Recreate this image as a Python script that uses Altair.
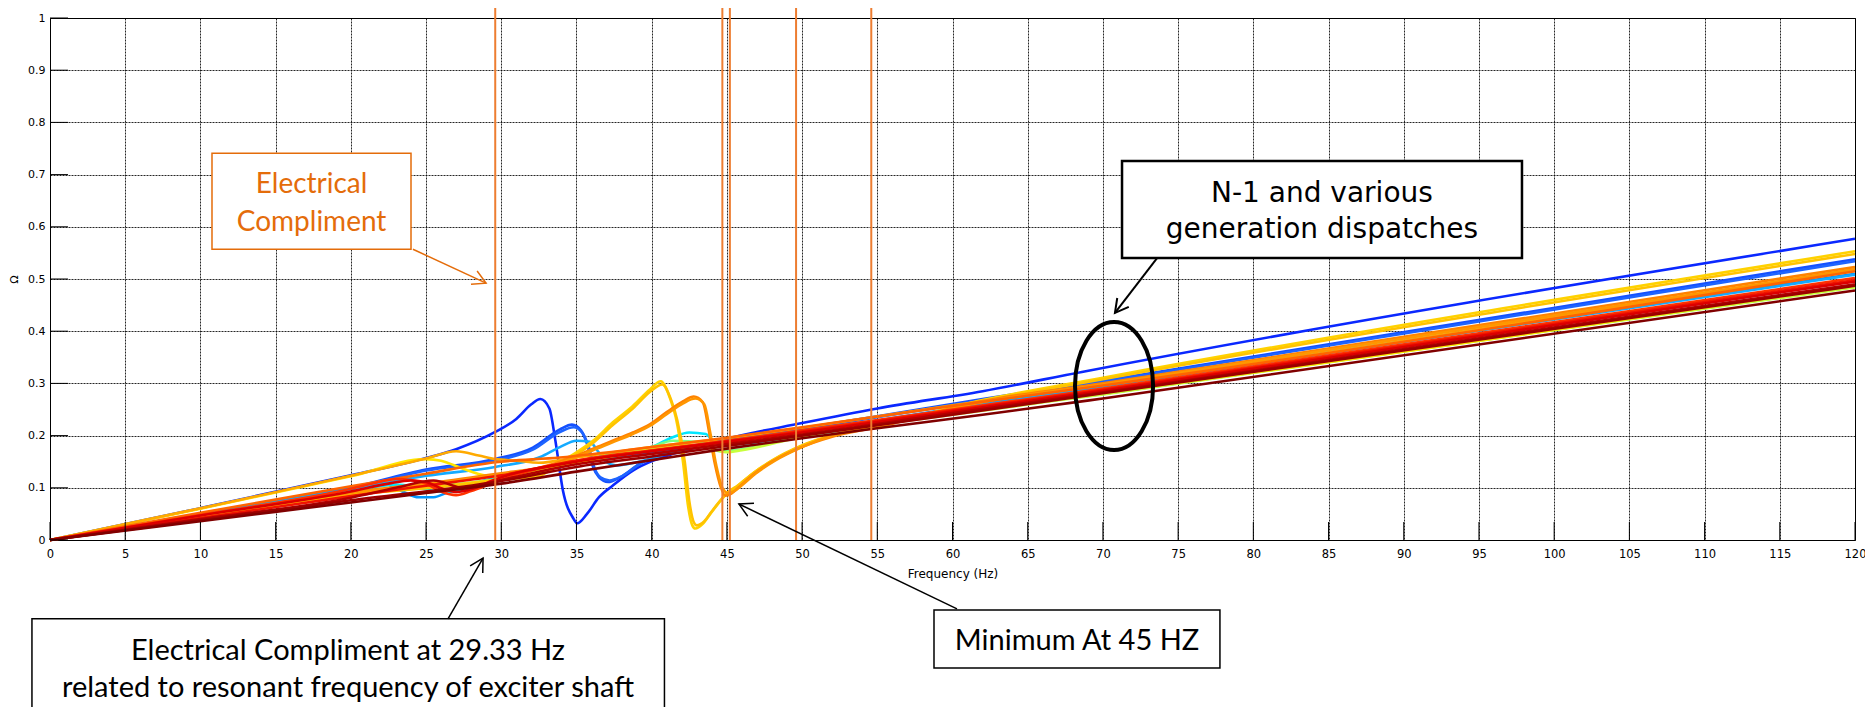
import math
import altair as alt
import pandas as pd

# ---------------- axis ticks ----------------
FREQ_TICKS = list(range(0, 125, 5))
OHM_TICKS = [0, 0.1, 0.2, 0.3, 0.4, 0.5, 0.6, 0.7, 0.8, 0.9, 1.0]

# ---------------- impedance curves (Hz, ohm) ----------------
BLUE1_F = [0, 10, 20, 25, 27, 29.6, 31, 32, 32.6, 33.2, 33.6, 34.1, 34.8, 35.05, 35.7, 36.5, 37.4, 38.75, 40.1, 41.4, 43, 45, 50, 55, 62, 68.6, 120]
BLUE1_Z = [0, 0.061, 0.124, 0.157, 0.174, 0.207, 0.232, 0.26, 0.27, 0.252, 0.19, 0.095, 0.041, 0.032, 0.05, 0.082, 0.104, 0.133, 0.152, 0.165, 0.178, 0.194, 0.224, 0.252, 0.285, 0.322, 0.577]

BLUE2A_F = [0, 10, 20, 25, 29.6, 32.1, 33.9, 34.7, 35.3, 35.7, 36.1, 36.5, 37.1, 37.9, 39.2, 40.5, 45, 50, 55, 62, 70, 120]
BLUE2A_Z = [0, 0.047, 0.1, 0.135, 0.155, 0.177, 0.212, 0.221, 0.21, 0.184, 0.14, 0.12, 0.111, 0.12, 0.146, 0.162, 0.19, 0.214, 0.237, 0.27, 0.305, 0.538]

BLUE2B_F = [0, 10, 20, 25, 29.6, 32.1, 33.9, 34.8, 35.4, 35.8, 36.2, 36.6, 37.2, 38, 39.3, 40.6, 45, 50, 55, 62, 70, 120]
BLUE2B_Z = [0, 0.046, 0.098, 0.133, 0.152, 0.173, 0.207, 0.216, 0.205, 0.18, 0.138, 0.12, 0.114, 0.122, 0.147, 0.162, 0.189, 0.212, 0.235, 0.268, 0.303, 0.534]

LBLUE1_F = [0, 10, 20, 22, 23.5, 24.5, 25.5, 26.5, 27.5, 29, 30, 35, 40, 45, 50, 60, 70, 120]
LBLUE1_Z = [0, 0.05, 0.1, 0.11, 0.092, 0.082, 0.082, 0.092, 0.101, 0.115, 0.122, 0.148, 0.168, 0.186, 0.206, 0.252, 0.295, 0.51]

LBLUE2_F = [0, 10, 20, 25, 29.6, 32.6, 33.9, 35, 35.9, 36.4, 37, 37.6, 38.5, 39.9, 41, 45, 50, 60, 70, 120]
LBLUE2_Z = [0, 0.048, 0.097, 0.123, 0.14, 0.159, 0.178, 0.19, 0.188, 0.171, 0.149, 0.143, 0.146, 0.155, 0.165, 0.186, 0.205, 0.25, 0.294, 0.508]

CYAN_F = [0, 10, 20, 23, 24.5, 25.5, 26.5, 27.5, 29, 30, 35, 38, 40, 41.4, 42.5, 43.6, 44.1, 45, 50, 60, 70, 120]
CYAN_Z = [0, 0.046, 0.093, 0.106, 0.1, 0.094, 0.092, 0.098, 0.11, 0.117, 0.15, 0.168, 0.178, 0.197, 0.206, 0.203, 0.19, 0.183, 0.2, 0.242, 0.28, 0.485]

GREEN_F = [0, 10, 20, 30, 35, 38, 40, 41.4, 43.5, 44.5, 45.5, 50, 60, 70, 120]
GREEN_Z = [0, 0.045, 0.09, 0.118, 0.15, 0.167, 0.178, 0.19, 0.186, 0.17, 0.172, 0.2, 0.242, 0.28, 0.486]

YGREEN_F = [0, 10, 20, 30, 35, 40, 42, 44, 45, 46, 50, 60, 70, 120]
YGREEN_Z = [0, 0.045, 0.089, 0.116, 0.148, 0.175, 0.182, 0.175, 0.168, 0.172, 0.198, 0.24, 0.279, 0.484]

YELLOW3_F = [0, 10, 20, 25, 26, 27.5, 29, 30, 35, 40, 45, 50, 60, 70, 120]
YELLOW3_Z = [0, 0.06, 0.122, 0.155, 0.152, 0.136, 0.123, 0.12, 0.148, 0.172, 0.186, 0.204, 0.245, 0.282, 0.488]

YELLOW1_F = [0, 10, 20, 25, 30, 32.6, 33.7, 35, 36.1, 37.4, 38.75, 39.9, 40.6, 41.2, 41.6, 42.1, 42.4, 42.7, 42.9, 43.4, 43.9, 44.6, 45, 45.6, 46.7, 48, 49.8, 52, 55, 62, 70, 120]
YELLOW1_Z = [0, 0.045, 0.088, 0.1, 0.117, 0.127, 0.146, 0.168, 0.19, 0.225, 0.257, 0.289, 0.304, 0.273, 0.235, 0.146, 0.069, 0.028, 0.022, 0.031, 0.05, 0.076, 0.089, 0.101, 0.127, 0.152, 0.178, 0.2, 0.218, 0.268, 0.311, 0.553]

YELLOW2_F = [0, 10, 20, 25, 30, 32.6, 33.7, 35, 36.1, 37.4, 38.75, 39.9, 40.7, 41.3, 41.7, 42.2, 42.5, 42.8, 43.0, 43.5, 44, 44.7, 45.1, 45.7, 46.8, 48.1, 49.9, 52, 55, 62, 70, 120]
YELLOW2_Z = [0, 0.044, 0.087, 0.099, 0.115, 0.124, 0.142, 0.164, 0.186, 0.22, 0.252, 0.284, 0.298, 0.268, 0.23, 0.15, 0.075, 0.034, 0.028, 0.036, 0.055, 0.08, 0.092, 0.104, 0.129, 0.154, 0.18, 0.201, 0.219, 0.266, 0.308, 0.548]

YORANGE_F = [0, 10, 20, 25, 27, 28.5, 29.6, 31, 32.5, 35, 40, 45, 50, 60, 70, 120]
YORANGE_Z = [0, 0.061, 0.123, 0.156, 0.17, 0.162, 0.155, 0.152, 0.148, 0.158, 0.178, 0.195, 0.215, 0.258, 0.297, 0.519]

ORANGE1_F = [0, 10, 20, 25, 30, 32.6, 34.8, 36.1, 37.4, 38.75, 39.9, 41, 42.1, 42.8, 43.4, 43.8, 44.2, 44.6, 44.9, 45.3, 45.8, 46.7, 48, 49.8, 52, 55, 62, 70, 120]
ORANGE1_Z = [0, 0.046, 0.092, 0.108, 0.128, 0.139, 0.159, 0.175, 0.19, 0.206, 0.222, 0.245, 0.266, 0.275, 0.264, 0.21, 0.146, 0.101, 0.085, 0.089, 0.101, 0.124, 0.15, 0.176, 0.198, 0.216, 0.266, 0.3, 0.523]

ORANGE2_F = [0, 10, 20, 25, 30, 32.6, 34.8, 36.1, 37.4, 38.75, 39.9, 41, 42.1, 42.9, 43.5, 43.9, 44.3, 44.7, 45.1, 45.5, 46, 46.9, 48.2, 50, 52, 55, 62, 70, 120]
ORANGE2_Z = [0, 0.045, 0.09, 0.106, 0.126, 0.137, 0.156, 0.172, 0.187, 0.203, 0.219, 0.241, 0.262, 0.271, 0.26, 0.205, 0.142, 0.1, 0.09, 0.094, 0.105, 0.127, 0.152, 0.178, 0.2, 0.218, 0.264, 0.298, 0.518]

ORANGE3_F = [0, 10, 20, 25, 29.6, 33.9, 40, 45, 50, 60, 70, 120]
ORANGE3_Z = [0, 0.052, 0.103, 0.127, 0.149, 0.158, 0.178, 0.196, 0.216, 0.257, 0.296, 0.515]

RED1_F = [0, 10, 20, 22, 23, 24, 25, 26, 27, 28, 29.5, 31, 35, 40, 45, 50, 60, 70, 120]
RED1_Z = [0, 0.048, 0.098, 0.112, 0.117, 0.115, 0.108, 0.093, 0.086, 0.094, 0.11, 0.125, 0.152, 0.172, 0.19, 0.21, 0.25, 0.29, 0.502]

RED2_F = [0, 10, 20, 25, 30, 35, 40, 45, 50, 60, 70, 120]
RED2_Z = [0, 0.042, 0.084, 0.104, 0.124, 0.152, 0.171, 0.189, 0.208, 0.248, 0.288, 0.498]

RED3_F = [0, 10, 20, 22.5, 24, 25, 26, 27, 28.1, 29.5, 35, 40, 45, 50, 60, 70, 120]
RED3_Z = [0, 0.047, 0.093, 0.108, 0.114, 0.111, 0.099, 0.092, 0.098, 0.115, 0.15, 0.17, 0.188, 0.206, 0.246, 0.286, 0.495]

DRED1_F = [0, 10, 20, 23, 25.5, 27.5, 30, 35, 40, 45, 50, 60, 70, 120]
DRED1_Z = [0, 0.04, 0.081, 0.1, 0.114, 0.1, 0.115, 0.145, 0.165, 0.184, 0.202, 0.243, 0.283, 0.49]

DRED2_F = [0, 10, 20, 30, 35, 40, 45, 50, 60, 70, 120]
DRED2_Z = [0, 0.038, 0.076, 0.113, 0.14, 0.16, 0.18, 0.2, 0.24, 0.281, 0.487]

BROWN_F = [0, 10, 20, 25, 30, 35, 40, 45, 50, 55, 62, 70, 120]
BROWN_Z = [0, 0.036, 0.072, 0.09, 0.108, 0.131, 0.153, 0.175, 0.195, 0.214, 0.24, 0.271, 0.478]

SERIES = [
    ("01", "#0A28FF", BLUE1_F, BLUE1_Z),
    ("02", "#1450FF", BLUE2A_F, BLUE2A_Z),
    ("03", "#1E64FF", BLUE2B_F, BLUE2B_Z),
    ("04", "#0096FF", LBLUE1_F, LBLUE1_Z),
    ("05", "#14AAFF", LBLUE2_F, LBLUE2_Z),
    ("06", "#00E6FF", CYAN_F, CYAN_Z),
    ("07", "#78FF82", GREEN_F, GREEN_Z),
    ("08", "#C8FF3C", YGREEN_F, YGREEN_Z),
    ("09", "#FFE600", YELLOW3_F, YELLOW3_Z),
    ("10", "#FFD200", YELLOW1_F, YELLOW1_Z),
    ("11", "#FFC300", YELLOW2_F, YELLOW2_Z),
    ("12", "#FFAA00", YORANGE_F, YORANGE_Z),
    ("13", "#FF8200", ORANGE1_F, ORANGE1_Z),
    ("14", "#FF9600", ORANGE2_F, ORANGE2_Z),
    ("15", "#FF6400", ORANGE3_F, ORANGE3_Z),
    ("16", "#FF3200", RED1_F, RED1_Z),
    ("17", "#F01400", RED2_F, RED2_Z),
    ("18", "#DC0000", RED3_F, RED3_Z),
    ("19", "#B40000", DRED1_F, DRED1_Z),
    ("20", "#9B0000", DRED2_F, DRED2_Z),
    ("21", "#800000", BROWN_F, BROWN_Z),
]

# orange marker lines (Hz)
MARK_F = [29.6, 44.7, 45.2, 49.6, 54.6]
MARK_TOP = 1.021

# ---------------- layout ----------------
W, H = 1805, 522
SX = W / 120.0   # px per Hz
SY = H / 1.0     # px per ohm
TICK_LEN_X = 18 / SX
TICK_LEN_Y = 18 / SY

ORANGE = "#E46C0A"
VLINE = "#ED7D31"

rows = []
for sid, col, fs, zs in SERIES:
    for f, z in zip(fs, zs):
        rows.append({"sid": sid, "f": f, "z": z})
lines_df = pd.DataFrame(rows)

xs = alt.Scale(domain=[0, 120], nice=False)
ys = alt.Scale(domain=[0, 1], nice=False)

GRID = dict(grid=True, gridColor="#000", gridDash=[2, 1], gridWidth=1, gridOpacity=0.85)

X_AXIS = alt.Axis(
    values=FREQ_TICKS, format="d", title="Frequency (Hz)", ticks=False, domain=False,
    labelPadding=8, labelFont="DejaVu Sans", labelFontSize=11.5, labelColor="#000",
    titleFont="DejaVu Sans", titleFontSize=12, titleFontWeight="normal", titleColor="#000",
    titleBaseline="alphabetic", titleY=37, labelFlush=False, **GRID)
Y_AXIS = alt.Axis(
    values=OHM_TICKS, format="~g", title="Ω", ticks=False, domain=False,
    labelPadding=5, labelFont="DejaVu Sans", labelFontSize=11, labelColor="#000",
    titleFont="DejaVu Sans", titleFontSize=11, titleFontWeight="normal", titleColor="#000",
    titleX=-36, titleY=261, titleAlign="center", titleBaseline="middle", titleAngle=-90,
    labelFlush=False, **GRID)


def X(field):
    return alt.X(field, scale=xs, axis=X_AXIS)


def Y(field):
    return alt.Y(field, scale=ys, axis=Y_AXIS)


lines = alt.Chart(lines_df).mark_line(strokeWidth=2.6, interpolate="monotone").encode(
    x=X("f:Q"), y=Y("z:Q"),
    color=alt.Color("sid:N", scale=alt.Scale(domain=[s[0] for s in SERIES], range=[s[1] for s in SERIES]), legend=None),
)

vdf = pd.DataFrame({"f": MARK_F, "y0": [0] * len(MARK_F), "y1": [MARK_TOP] * len(MARK_F)})
vlines = alt.Chart(vdf).mark_rule(color=VLINE, strokeWidth=2).encode(
    x=X("f:Q"), y=Y("y0:Q"), y2="y1:Q")

xt_df = pd.DataFrame({"f": FREQ_TICKS, "y0": [0] * len(FREQ_TICKS), "y1": [TICK_LEN_Y] * len(FREQ_TICKS)})
xticks = alt.Chart(xt_df).mark_rule(color="#000", strokeWidth=1).encode(
    x=X("f:Q"), y=Y("y0:Q"), y2="y1:Q")
yt_df = pd.DataFrame({"z": OHM_TICKS, "x0": [0] * len(OHM_TICKS), "x1": [TICK_LEN_X] * len(OHM_TICKS)})
yticks = alt.Chart(yt_df).mark_rule(color="#000", strokeWidth=1).encode(
    y=Y("z:Q"), x=X("x0:Q"), x2="x1:Q")

# ---------------- annotations (data coordinates) ----------------
BOX_X1 = [10.77, 71.27, 58.77, -1.2]
BOX_X2 = [24.0, 97.86, 77.78, 40.85]
BOX_Y1 = [0.741, 0.726, -0.134, -0.151]
BOX_Y2 = [0.557, 0.540, -0.245, -0.40]
BOX_STROKE = [ORANGE, "#000", "#000", "#000"]
BOX_WIDTH = [1.5, 2.5, 1.5, 1.5]

boxes = []
for i in range(4):
    bdf = pd.DataFrame({"x1": [BOX_X1[i]], "x2": [BOX_X2[i]], "y1": [BOX_Y1[i]], "y2": [BOX_Y2[i]]})
    boxes.append(alt.Chart(bdf).mark_rect(fill="#fff", stroke=BOX_STROKE[i], strokeWidth=BOX_WIDTH[i]).encode(
        x=X("x1:Q"), x2="x2:Q", y=Y("y1:Q"), y2="y2:Q"))

TXT_SANS = ["N-1 and various", "generation dispatches"]
TXT_SANS_X = [84.56, 84.56]
TXT_SANS_Y = [0.648, 0.578]

TXT_CAL = ["Minimum At 45 HZ", "Electrical Compliment at 29.33 Hz", "related to resonant frequency of exciter shaft"]
TXT_CAL_X = [68.28, 19.81, 19.81]
TXT_CAL_Y = [-0.2107, -0.230, -0.301]

TXT_OR = ["Electrical", "Compliment"]
TXT_OR_X = [17.39, 17.39]
TXT_OR_Y = [0.665, 0.592]


def text_layer(labels, xsv, ysv, font, size, color):
    df = pd.DataFrame({"t": labels, "x": xsv, "y": ysv})
    return alt.Chart(df).mark_text(font=font, fontSize=size, color=color, align="center", baseline="alphabetic").encode(
        x=X("x:Q"), y=Y("y:Q"), text="t:N")


t1 = text_layer(TXT_SANS, TXT_SANS_X, TXT_SANS_Y, "DejaVu Sans", 28, "#000")
t2 = text_layer(TXT_CAL, TXT_CAL_X, TXT_CAL_Y, "Lato", 29, "#000")
t3 = text_layer(TXT_OR, TXT_OR_X, TXT_OR_Y, "Lato", 28, ORANGE)

# arrows: tail -> head
ARR_X1 = [24.13, 73.6, 60.3, 26.46]
ARR_Y1 = [0.557, 0.540, -0.132, -0.151]
ARR_X2 = [28.99, 70.8, 45.8, 28.79]
ARR_Y2 = [0.492, 0.435, 0.069, -0.0345]
ARR_COL = [ORANGE, "#000", "#000", "#000"]
ARR_W = [1.5, 2, 1.5, 1.5]

arrows = []
V_SHAPE = "M-0.55,1 L0,0 L0.55,1"
for i in range(4):
    adf = pd.DataFrame({"x1": [ARR_X1[i]], "y1": [ARR_Y1[i]], "x2": [ARR_X2[i]], "y2": [ARR_Y2[i]]})
    arrows.append(alt.Chart(adf).mark_rule(color=ARR_COL[i], strokeWidth=ARR_W[i]).encode(
        x=X("x1:Q"), x2="x2:Q", y=Y("y1:Q"), y2="y2:Q"))
    dx = (ARR_X2[i] - ARR_X1[i]) * SX
    dy = -(ARR_Y2[i] - ARR_Y1[i]) * SY
    ang = math.degrees(math.atan2(dx, -dy)) % 360
    hdf = pd.DataFrame({"x": [ARR_X2[i]], "y": [ARR_Y2[i]]})
    arrows.append(alt.Chart(hdf).mark_point(shape=V_SHAPE, filled=False, stroke=ARR_COL[i],
                                            strokeWidth=ARR_W[i], size=700, angle=ang, opacity=1).encode(
        x=X("x:Q"), y=Y("y:Q")))

ELL_SHAPE = ("M0,-1 C0.337,-1 0.61,-0.552 0.61,0 C0.61,0.552 0.337,1 0,1 "
             "C-0.337,1 -0.61,0.552 -0.61,0 C-0.61,-0.552 -0.337,-1 0,-1 Z")
edf = pd.DataFrame({"x": [70.74], "y": [0.295]})
ellipse = alt.Chart(edf).mark_point(shape=ELL_SHAPE, filled=False, stroke="#000", strokeWidth=4,
                                    size=128 * 128, opacity=1).encode(
    x=X("x:Q"), y=Y("y:Q"))

chart = alt.layer(lines, vlines, xticks, yticks, *boxes, *arrows, t1, t2, t3, ellipse).properties(
    width=W, height=H,
    padding={"left": 42, "top": 10, "right": 10, "bottom": 167},
    autosize=alt.AutoSizeParams(type="none"),
    background="#ffffff",
).configure_view(stroke="#000", strokeWidth=1).configure_axis(labelOverlap=False)

chart.save("out.html", embed_options={"renderer": "svg", "actions": False})
